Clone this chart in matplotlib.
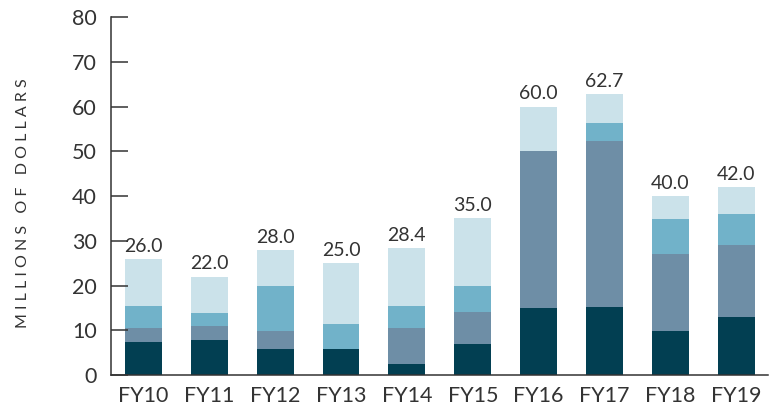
import numpy as np
import matplotlib.pyplot as plt

plt.rcParams['font.family'] = ['Lato', 'DejaVu Sans']

years = ["FY10", "FY11", "FY12", "FY13", "FY14", "FY15", "FY16", "FY17", "FY18", "FY19"]
totals = [26.0, 22.0, 28.0, 25.0, 28.4, 35.0, 60.0, 62.7, 40.0, 42.0]

# stacked segments, bottom to top
dark = [7.4, 7.8, 5.8, 5.8, 2.5, 6.9, 15.0, 15.2, 9.8, 13.0]
mid = [3.1, 3.1, 4.0, 0.0, 8.0, 7.2, 35.0, 37.1, 17.2, 16.0]
teal = [4.9, 3.0, 10.1, 5.6, 4.9, 5.8, 0.0, 4.0, 7.9, 7.0]
light = [10.6, 8.1, 8.1, 13.6, 13.0, 15.1, 10.0, 6.4, 5.1, 6.0]

colors = ["#023f52", "#6e8ea6", "#71b2c9", "#cbe2ea"]
text_c = "#333333"

fig = plt.figure(figsize=(7.72, 4.07), dpi=100)
ax = fig.add_axes([0.1438, 0.0786, 0.851, 0.8795])

x = np.arange(len(years))
bottom = np.zeros(len(years))
for seg, c in zip([dark, mid, teal, light], colors):
    ax.bar(x, seg, width=0.56, bottom=bottom, color=c, linewidth=0)
    bottom += np.array(seg)

for xi, t in zip(x, totals):
    ax.annotate(f"{t:.1f}", (xi, t), xytext=(0, 3), textcoords="offset points",
                ha="center", va="bottom", fontsize=14, color=text_c)

ax.set_xlim(-0.49, 9.48)
ax.set_ylim(0, 80)
ax.set_yticks(range(0, 81, 10))
ax.set_xticks(x)
ax.set_xticklabels(years)

for s in ["top", "right"]:
    ax.spines[s].set_visible(False)
for s in ["left", "bottom"]:
    ax.spines[s].set_color(text_c)
    ax.spines[s].set_linewidth(1.1)

ax.tick_params(axis="y", direction="in", length=12, width=1.1, color=text_c,
               labelsize=15.5, labelcolor=text_c, pad=10)
ax.tick_params(axis="x", length=0, labelsize=15.5, labelcolor=text_c, pad=8)

label = "   ".join(" ".join(w) for w in ["MILLIONS", "OF", "DOLLARS"])
fig.text(0.03, 0.5, label, rotation=90, ha="center", va="center",
         fontsize=11.5, color=text_c)

fig.savefig("out.png", dpi=100)
